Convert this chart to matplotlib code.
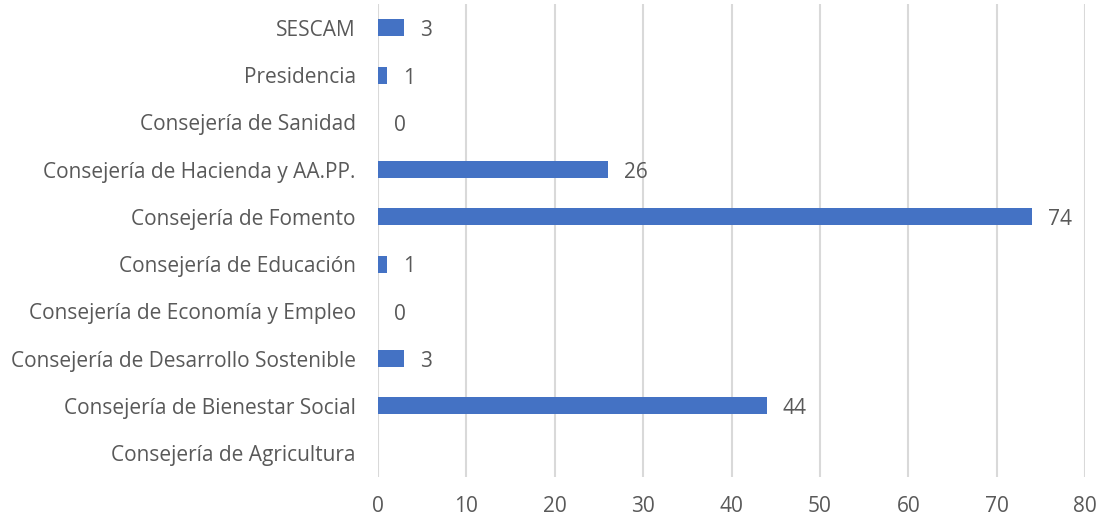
import numpy as np
import matplotlib.pyplot as plt

categorias = ["Consejería de Agricultura", "Consejería de Bienestar Social",
              "Consejería de Desarrollo Sostenible", "Consejería de Economía y Empleo",
              "Consejería de Educación", "Consejería de Fomento",
              "Consejería de Hacienda y AA.PP.", "Consejería de Sanidad",
              "Presidencia", "SESCAM"]
valores = [np.nan, 44, 3, 0, 1, 74, 26, 0, 1, 3]
xticks = [0, 10, 20, 30, 40, 50, 60, 70, 80]

plt.rcParams['font.family'] = ['Open Sans', 'DejaVu Sans']
gris = '#595959'

fig = plt.figure(figsize=(11.05, 5.21), dpi=100)
ax = fig.add_axes([0.342, 0.085, 0.640, 0.9066])

y = np.arange(len(categorias))
ax.barh(y, np.nan_to_num(valores), height=0.36, color='#4472C4', zorder=3)

for yi, v in zip(y, valores):
    if np.isnan(v):
        continue
    ax.text(v + 1.8, yi - 0.06, f"{int(v)}", va='center', ha='left', fontsize=15, color=gris)

ax.set_xlim(0, 80)
ax.set_ylim(-0.5, len(categorias) - 0.5)
ax.set_xticks(xticks)
ax.set_yticks(y)
ax.set_yticklabels(categorias)
ax.tick_params(axis='both', length=0, labelsize=15, colors=gris)
ax.tick_params(axis='y', pad=16)
ax.tick_params(axis='x', pad=14)
ax.grid(axis='x', color='#d9d9d9', linewidth=1.5, zorder=0)
for s in ax.spines.values():
    s.set_visible(False)

fig.savefig('out.png', dpi=100)
